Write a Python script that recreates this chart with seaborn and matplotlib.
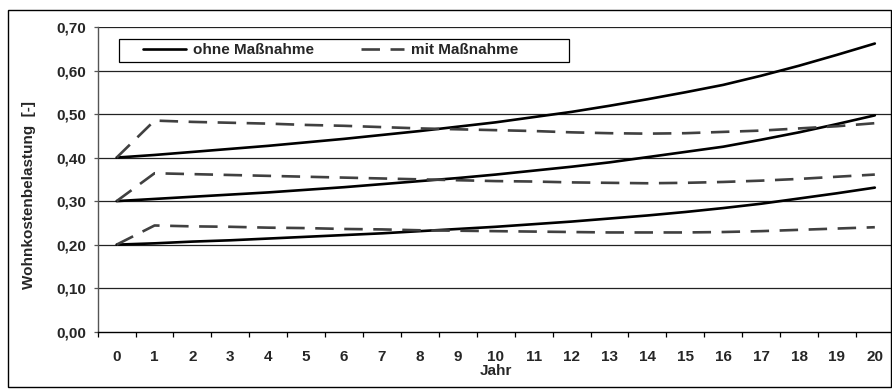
import matplotlib
matplotlib.use('Agg')
import matplotlib.pyplot as plt
from matplotlib.lines import Line2D
from matplotlib.patches import Rectangle
from matplotlib.ticker import FixedLocator
import seaborn as sns
import pandas as pd

# Werte
jahre = list(range(21))
ohne_040 = [0.400, 0.406, 0.413, 0.420, 0.427, 0.435, 0.443, 0.452, 0.461, 0.471, 0.481,
            0.493, 0.505, 0.519, 0.534, 0.550, 0.567, 0.588, 0.611, 0.636, 0.662]
ohne_030 = [0.300, 0.305, 0.310, 0.315, 0.320, 0.326, 0.332, 0.339, 0.346, 0.353, 0.361,
            0.370, 0.379, 0.389, 0.401, 0.413, 0.425, 0.441, 0.458, 0.477, 0.497]
ohne_020 = [0.200, 0.203, 0.207, 0.210, 0.214, 0.218, 0.222, 0.226, 0.231, 0.236, 0.241,
            0.247, 0.253, 0.260, 0.267, 0.275, 0.284, 0.294, 0.306, 0.318, 0.331]
mit_040 = [0.400, 0.485, 0.482, 0.480, 0.478, 0.475, 0.473, 0.470, 0.467, 0.465, 0.463,
           0.461, 0.458, 0.456, 0.455, 0.456, 0.459, 0.462, 0.467, 0.472, 0.479]
mit_030 = [0.300, 0.364, 0.362, 0.360, 0.358, 0.356, 0.354, 0.352, 0.350, 0.348, 0.346,
           0.345, 0.343, 0.342, 0.341, 0.342, 0.344, 0.347, 0.351, 0.356, 0.361]
mit_020 = [0.200, 0.244, 0.242, 0.241, 0.239, 0.238, 0.236, 0.235, 0.233, 0.232, 0.231,
           0.230, 0.229, 0.228, 0.228, 0.228, 0.229, 0.231, 0.234, 0.237, 0.240]
y_ticks = [0.0, 0.1, 0.2, 0.3, 0.4, 0.5, 0.6, 0.7]
y_labels = ['0,00', '0,10', '0,20', '0,30', '0,40', '0,50', '0,60', '0,70']

rows = []
for variante, niveau, werte in [('ohne Maßnahme', 'a', ohne_040), ('ohne Maßnahme', 'b', ohne_030),
                                ('ohne Maßnahme', 'c', ohne_020), ('mit Maßnahme', 'a', mit_040),
                                ('mit Maßnahme', 'b', mit_030), ('mit Maßnahme', 'c', mit_020)]:
    for j, w in zip(jahre, werte):
        rows.append({'Jahr': j, 'Belastung': w, 'Variante': variante, 'Niveau': niveau})
df = pd.DataFrame(rows)

sns.set_style('white')
plt.rcParams['font.family'] = ['Liberation Sans', 'DejaVu Sans']
plt.rcParams['font.weight'] = 'bold'
fs = 11

fig = plt.figure(figsize=(8.92, 3.89), dpi=100)
ax = fig.add_axes([0.1095, 0.1473, 0.8925, 0.7833])

for y in y_ticks[1:]:
    ax.axhline(y, color='#222222', linewidth=0.9, zorder=1)

palette = {'ohne Maßnahme': 'black', 'mit Maßnahme': '#404040'}
dashes = {'ohne Maßnahme': '', 'mit Maßnahme': (7, 4)}
sns.lineplot(data=df, x='Jahr', y='Belastung', hue='Variante', style='Variante',
             units='Niveau', estimator=None, palette=palette, dashes=dashes,
             linewidth=1.9, legend=False, ax=ax, zorder=3)

ax.set_xlim(-0.5, 20.5)
ax.set_ylim(0, 0.70)
ax.set_yticks(y_ticks)
ax.set_yticklabels(y_labels, fontsize=fs, fontweight='bold')
ax.set_xticks(jahre)
ax.set_xticklabels([str(j) for j in jahre], fontsize=fs, fontweight='bold')
ax.xaxis.set_minor_locator(FixedLocator([j - 0.5 for j in range(22)]))
ax.tick_params(axis='x', which='major', length=0, pad=13)
ax.tick_params(axis='x', which='minor', length=3.6, width=0.9, color='black', direction='out', bottom=True)
ax.tick_params(axis='y', which='major', length=3, width=0.9, color='#555555', direction='out', left=True, pad=5)

for side in ['top', 'right']:
    ax.spines[side].set_visible(False)
ax.spines['left'].set_color('#555555')
ax.spines['left'].set_linewidth(1.0)
ax.spines['bottom'].set_color('black')
ax.spines['bottom'].set_linewidth(1.0)

ax.set_xlabel('Jahr', fontsize=fs, fontweight='bold', labelpad=0)
ax.set_ylabel('Wohnkostenbelastung  [-]', fontsize=fs, fontweight='bold')
ax.yaxis.set_label_coords(-0.078, 0.45)

# Legendenkasten
ax.add_patch(Rectangle((0.0268, 0.885), 0.565, 0.0755, transform=ax.transAxes,
                       facecolor='white', edgecolor='black', linewidth=0.9, zorder=5))
handles = [Line2D([], [], color='black', linewidth=1.9),
           Line2D([], [], color='#404040', linewidth=1.9, dashes=(7, 4))]
leg = ax.legend(handles, ['ohne Maßnahme', 'mit Maßnahme'], ncol=2, loc='center left',
                bbox_to_anchor=(0.057, 0.923), frameon=False,
                handlelength=2.8, handletextpad=0.45, columnspacing=3.1,
                borderpad=0, borderaxespad=0, prop={'size': fs, 'weight': 'bold'})
leg.set_zorder(6)

fig.patches.append(Rectangle((8 / 892, 1 - 387 / 389), 883 / 892, 377 / 389,
                             transform=fig.transFigure, fill=False,
                             edgecolor='black', linewidth=1.0))

fig.savefig('out.png', dpi=100)
plt.close(fig)
